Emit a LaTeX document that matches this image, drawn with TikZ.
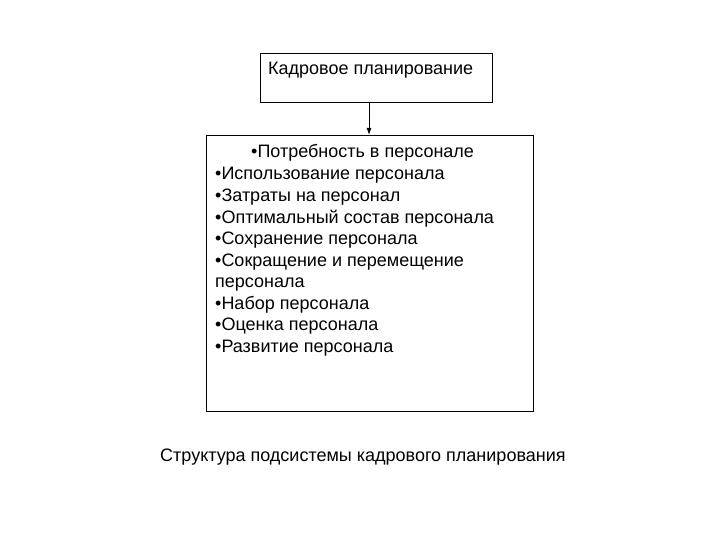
\documentclass[tikz,border=0pt]{standalone}
\usepackage{fontspec}
\setmainfont{Liberation Sans}
\usetikzlibrary{arrows.meta}
\begin{document}
\begin{tikzpicture}[x=1pt,y=-1pt,
  box/.style={draw=black, line width=0.9pt, inner sep=0pt},
  txt/.style={anchor=base west, inner sep=0pt, font=\fontsize{18}{21}\selectfont},
  arr/.style={draw=black, line width=0.9pt, -{Latex[length=7pt,width=5pt]}}]
\useasboundingbox[fill=white] (0,0) rectangle (720,540);
% boxes
\node[box, minimum width=232pt, minimum height=49pt, anchor=north west] (top) at (260,53) {};
\node[box, minimum width=327pt, minimum height=276pt, anchor=north west] (main) at (206,135) {};
% top text
\node[txt] (ttl) at (268,75) {Кадровое планирование};
% list
\node[txt] (l1) at (251,158) {•Потребность в персонале};
\node[txt] (l2) at (215,180) {•Использование персонала};
\node[txt] (l3) at (215,201.5) {•Затраты на персонал};
\node[txt] (l4) at (215,223) {•Оптимальный состав персонала};
\node[txt] (l5) at (215,244.5) {•Сохранение персонала};
\node[txt] (l6) at (215,266) {•Сокращение и перемещение};
\node[txt] (l7) at (215,287.5) {персонала};
\node[txt] (l8) at (215,309) {•Набор персонала};
\node[txt] (l9) at (215,330.5) {•Оценка персонала};
\node[txt] (l10) at (215,352) {•Развитие персонала};
% caption
\node[txt] (cap) at (160,461) {Структура подсистемы кадрового планирования};
% arrow
\coordinate (ax) at (369,0);
\draw[arr] (top.south -| ax) -- (main.north -| ax);
\end{tikzpicture}
\end{document}
